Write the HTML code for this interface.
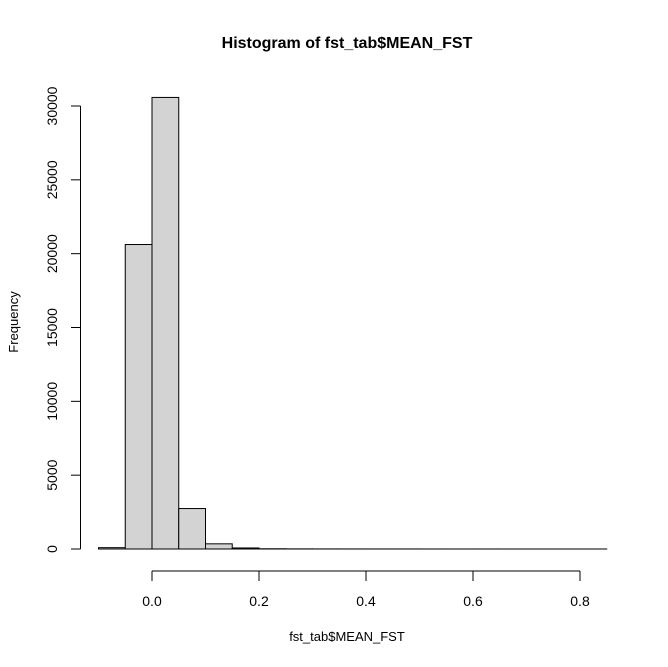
<!DOCTYPE html>
<html><head><meta charset="utf-8"><style>
body{margin:0;background:#fff}
svg{display:block;font-family:"Liberation Sans",Arial,sans-serif}
</style></head><body>
<svg id="chart" width="668" height="667">
<text x="347" y="48" text-anchor="middle" font-size="16" font-weight="bold">Histogram of fst_tab$MEAN_FST</text>
<text x="347" y="641" text-anchor="middle" font-size="13">fst_tab$MEAN_FST</text>
<text transform="translate(18,322) rotate(-90)" text-anchor="middle" font-size="13">Frequency</text>
<g id="bars"></g>
<g id="xaxis"></g>
<g id="yaxis"></g>
</svg>
<script>
const binStarts = [-0.1,-0.05,0,0.05,0.1,0.15,0.2,0.25,0.3,0.35,0.4,0.45,0.5,0.55,0.6,0.65,0.7,0.75,0.8];
const counts = [90,20620,30580,2740,350,70,15,8,5,4,3,3,2,2,2,1,1,1,1];
const binWidth = 0.05;
const xTicks = [0,0.2,0.4,0.6,0.8];
const xTickLabels = ["0.0","0.2","0.4","0.6","0.8"];
const yTicks = [0,5000,10000,15000,20000,25000,30000];
const yTickLabels = ["0","5000","10000","15000","20000","25000","30000"];
const NS="http://www.w3.org/2000/svg";
const sx=v=>152+v*535;
const sy=v=>549-v*443/30000;
const mk=(t,a,p)=>{const e=document.createElementNS(NS,t);for(const k in a)e.setAttribute(k,a[k]);p.appendChild(e);return e;};
const bars=document.getElementById('bars');
binStarts.forEach((b,i)=>{
 const x0=sx(b),x1=sx(b+binWidth),y=sy(counts[i]);
 const r=mk('rect',{x:x0,y:y,width:x1-x0,height:sy(0)-y,fill:'#d3d3d3',stroke:'#000','stroke-width':1},bars);
 
 
});
const xa=document.getElementById('xaxis');
mk('line',{x1:sx(xTicks[0]),x2:sx(xTicks[xTicks.length-1]),y1:571,y2:571,stroke:'#000'},xa);
xTicks.forEach((t,i)=>{
 mk('line',{x1:sx(t),x2:sx(t),y1:571,y2:581,stroke:'#000'},xa);
 const tx=mk('text',{x:sx(t),y:606,'text-anchor':'middle','font-size':14},xa);
 tx.textContent=xTickLabels[i];
 
 
});
const ya=document.getElementById('yaxis');
mk('line',{x1:80.5,x2:80.5,y1:sy(yTicks[0]),y2:sy(yTicks[yTicks.length-1]),stroke:'#000'},ya);
yTicks.forEach((t,i)=>{
 mk('line',{x1:71,x2:80.5,y1:sy(t),y2:sy(t),stroke:'#000'},ya);
 const tx=mk('text',{transform:`translate(57,${sy(t)}) rotate(-90)`,'text-anchor':'middle','font-size':14},ya);
 tx.textContent=yTickLabels[i];
 
 
});
</script>
</body></html>
